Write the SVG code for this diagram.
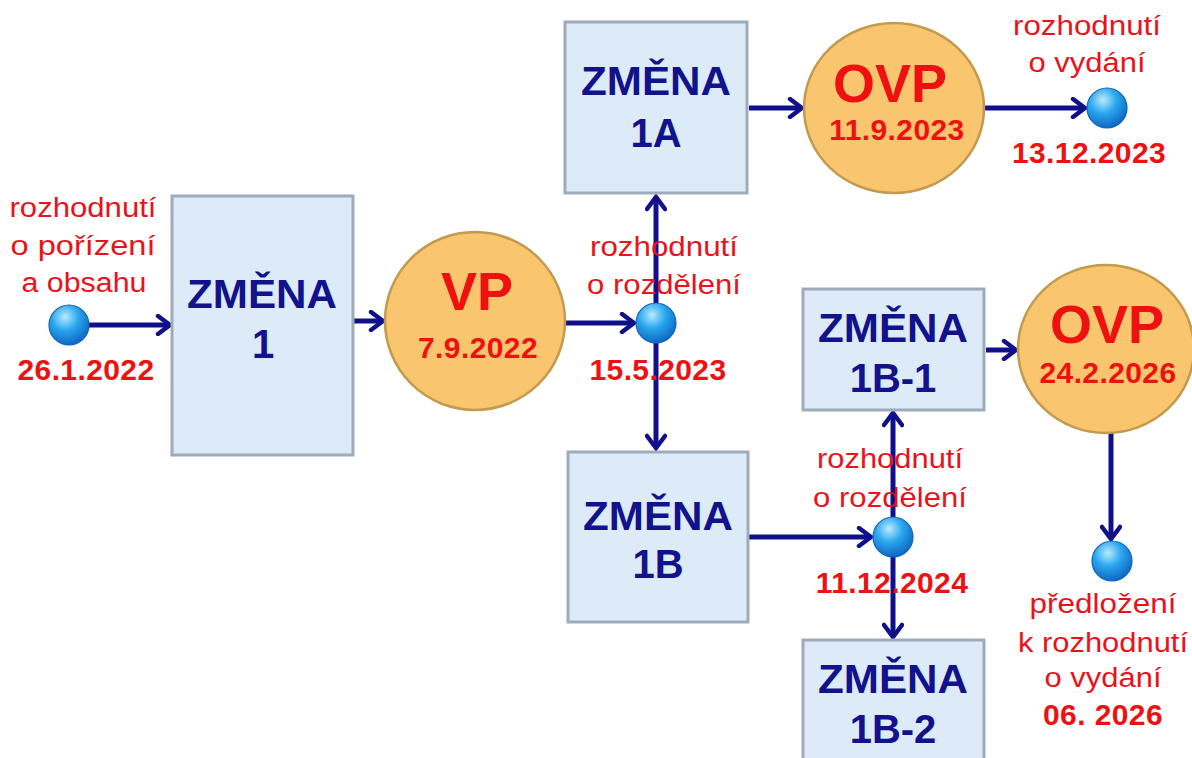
<svg xmlns="http://www.w3.org/2000/svg" width="1192" height="758" viewBox="0 0 1192 758">
<style>
  .box{fill:#ddebf8;stroke:#9eabba;stroke-width:3}
  .ell{fill:#f9c56e;stroke:#c39a4e;stroke-width:2.5}
  .dot{fill:url(#dotg);stroke:#1266b8;stroke-width:1.2}
  .bt{font-family:"Liberation Sans",Arial,sans-serif;font-weight:bold;font-size:40px;fill:#12128c;text-anchor:middle}
  .big{font-family:"Liberation Sans",Arial,sans-serif;font-weight:bold;font-size:54px;fill:#ee1111;text-anchor:middle}
  .date{font-family:"Liberation Sans",Arial,sans-serif;font-weight:bold;font-size:30px;fill:#ee1111;text-anchor:middle;letter-spacing:0.4px}
  .lab{font-family:"Liberation Sans",Arial,sans-serif;font-size:27px;fill:#e8131b;text-anchor:middle}
  .con{stroke:#10108c;stroke-width:5;fill:none;marker-end:url(#ah)}
</style>
<defs>
  <radialGradient id="dotg" cx="0.4" cy="0.3" r="0.75">
    <stop offset="0" stop-color="#b8ecff"/>
    <stop offset="0.45" stop-color="#2aa6ee"/>
    <stop offset="1" stop-color="#0b60bc"/>
  </radialGradient>
  <marker id="ah" markerUnits="userSpaceOnUse" markerWidth="22" markerHeight="22" viewBox="0 0 22 22" refX="19" refY="11" orient="auto">
    <path d="M7,2 L19,11 L7,20" fill="none" stroke="#10108c" stroke-width="4.5" stroke-linecap="round"/>
  </marker>
</defs>

<g id="connectors">
  <line class="con" x1="88" y1="325" x2="170" y2="325"/>
  <line class="con" x1="354" y1="321" x2="383" y2="321"/>
  <line class="con" x1="565" y1="323" x2="634" y2="323"/>
  <line class="con" x1="656" y1="305" x2="656" y2="197"/>
  <line class="con" x1="656" y1="342" x2="656" y2="448"/>
  <line class="con" x1="749" y1="108" x2="802" y2="108"/>
  <line class="con" x1="984" y1="108" x2="1085" y2="108"/>
  <line class="con" x1="749" y1="537" x2="871" y2="537"/>
  <line class="con" x1="893" y1="520" x2="893" y2="413"/>
  <line class="con" x1="893" y1="556" x2="893" y2="637"/>
  <line class="con" x1="986" y1="350" x2="1016" y2="350"/>
  <line class="con" x1="1111" y1="433" x2="1111" y2="539"/>
</g>

<g id="start">
  <circle class="dot" cx="69" cy="325" r="20"/>
  <text class="lab" x="83" y="217" textLength="147" lengthAdjust="spacingAndGlyphs">rozhodnutí</text>
  <text class="lab" x="83" y="255" textLength="145" lengthAdjust="spacingAndGlyphs">o pořízení</text>
  <text class="lab" x="84" y="292" textLength="125" lengthAdjust="spacingAndGlyphs">a obsahu</text>
  <text class="date" x="86" y="380">26.1.2022</text>
</g>

<g id="zmena1">
  <rect class="box" x="172" y="196" width="181" height="259"/>
  <text class="bt" x="262" y="308" textLength="150" lengthAdjust="spacingAndGlyphs">ZMĚNA</text>
  <text class="bt" x="263" y="358">1</text>
</g>

<g id="vp">
  <ellipse class="ell" cx="475" cy="321" rx="90" ry="89"/>
  <text class="big" x="477" y="310">VP</text>
  <text class="date" x="478" y="358">7.9.2022</text>
</g>

<g id="split1">
  <circle class="dot" cx="656" cy="323" r="20"/>
  <text class="lab" x="664" y="256" textLength="148" lengthAdjust="spacingAndGlyphs">rozhodnutí</text>
  <text class="lab" x="664" y="294" textLength="154" lengthAdjust="spacingAndGlyphs">o rozdělení</text>
  <text class="date" x="658" y="380">15.5.2023</text>
</g>

<g id="zmena1a">
  <rect class="box" x="565" y="22" width="182" height="171"/>
  <text class="bt" x="656" y="95" textLength="150" lengthAdjust="spacingAndGlyphs">ZMĚNA</text>
  <text class="bt" x="656" y="147">1A</text>
</g>

<g id="ovp1">
  <ellipse class="ell" cx="894" cy="108" rx="90" ry="85"/>
  <text class="big" x="890" y="102">OVP</text>
  <text class="date" x="897" y="140">11.9.2023</text>
</g>

<g id="end1">
  <circle class="dot" cx="1107" cy="108" r="20"/>
  <text class="lab" x="1087" y="35" textLength="148" lengthAdjust="spacingAndGlyphs">rozhodnutí</text>
  <text class="lab" x="1087" y="72" textLength="117" lengthAdjust="spacingAndGlyphs">o vydání</text>
  <text class="date" x="1089" y="163">13.12.2023</text>
</g>

<g id="zmena1b">
  <rect class="box" x="568" y="452" width="180" height="170"/>
  <text class="bt" x="658" y="530" textLength="150" lengthAdjust="spacingAndGlyphs">ZMĚNA</text>
  <text class="bt" x="658" y="578">1B</text>
</g>

<g id="split2">
  <circle class="dot" cx="893" cy="537" r="20"/>
  <text class="lab" x="890" y="468" textLength="146" lengthAdjust="spacingAndGlyphs">rozhodnutí</text>
  <text class="lab" x="890" y="507" textLength="154" lengthAdjust="spacingAndGlyphs">o rozdělení</text>
  <text class="date" x="892" y="593">11.12.2024</text>
</g>

<g id="zmena1b1">
  <rect class="box" x="803" y="289" width="181" height="121"/>
  <text class="bt" x="893" y="342" textLength="150" lengthAdjust="spacingAndGlyphs">ZMĚNA</text>
  <text class="bt" x="893" y="392">1B-1</text>
</g>

<g id="zmena1b2">
  <rect class="box" x="803" y="640" width="181" height="140"/>
  <text class="bt" x="893" y="693" textLength="150" lengthAdjust="spacingAndGlyphs">ZMĚNA</text>
  <text class="bt" x="893" y="743">1B-2</text>
</g>

<g id="ovp2">
  <ellipse class="ell" cx="1106" cy="349" rx="88" ry="84"/>
  <text class="big" x="1107" y="343">OVP</text>
  <text class="date" x="1108" y="383">24.2.2026</text>
</g>

<g id="end2">
  <circle class="dot" cx="1112" cy="561" r="20"/>
  <text class="lab" x="1103" y="613" textLength="147" lengthAdjust="spacingAndGlyphs">předložení</text>
  <text class="lab" x="1103" y="652" textLength="170" lengthAdjust="spacingAndGlyphs">k rozhodnutí</text>
  <text class="lab" x="1103" y="687" textLength="117" lengthAdjust="spacingAndGlyphs">o vydání</text>
  <text class="date" x="1103" y="725">06. 2026</text>
</g>
</svg>
